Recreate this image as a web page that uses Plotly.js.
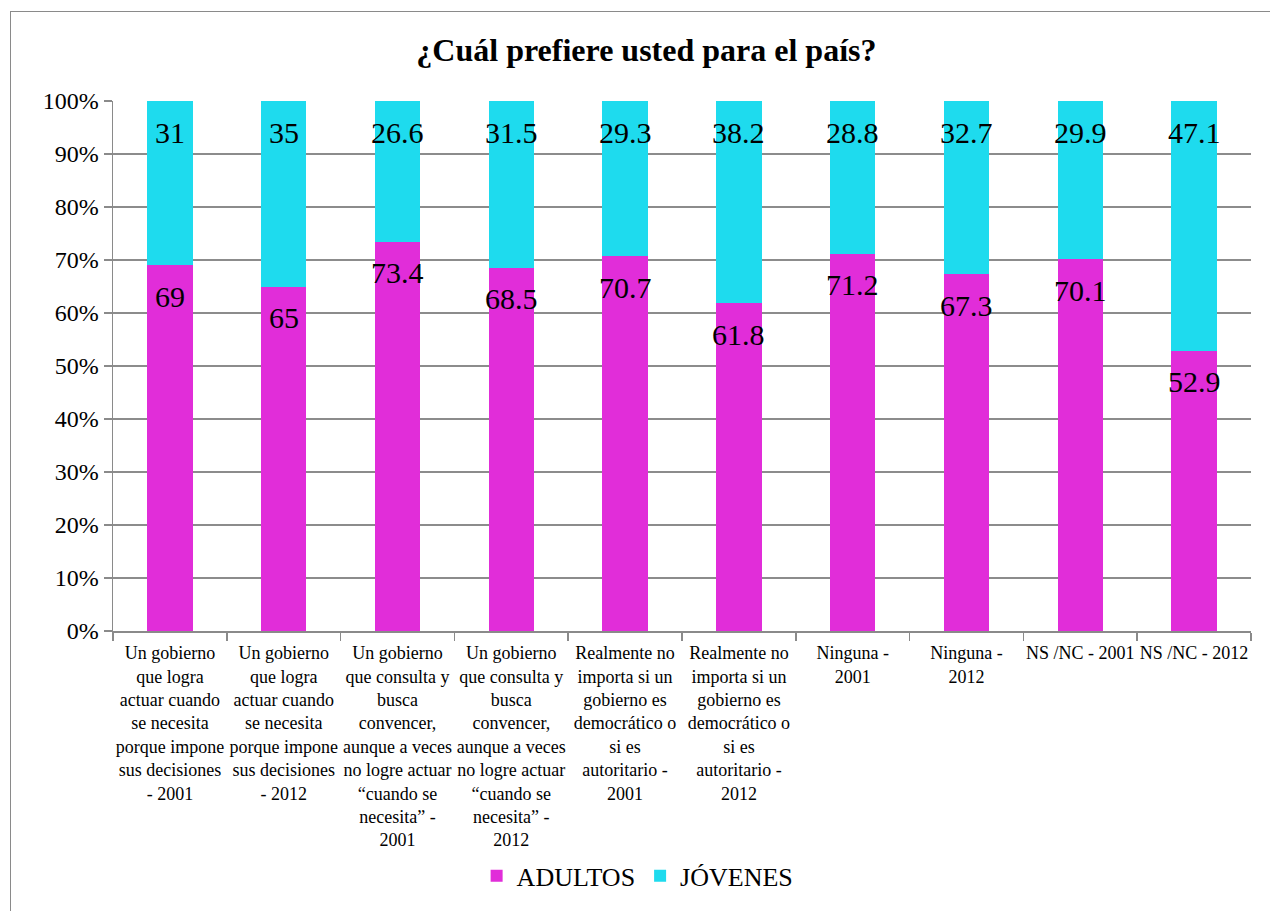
<!DOCTYPE html>
<html>
<head>
<meta charset="utf-8">
<script src="https://cdn.plot.ly/plotly-3.0.1.min.js"></script>
<style>
  html, body { margin: 0; padding: 0; background: #fff; }
  #frame { position: absolute; left: 10px; top: 11px; width: 1300px; height: 950px;
           border-left: 1.5px solid #8a8a8a; border-top: 1.5px solid #8a8a8a; }
  #chart { position: absolute; left: 0; top: 0; width: 1270px; height: 911px; }
</style>
</head>
<body>
<div id="frame"></div>
<div id="chart"></div>
<script>
// categorías (eje x)
const categorias = [
  'Un gobierno<br>que logra<br>actuar cuando<br>se necesita<br>porque impone<br>sus decisiones<br>- 2001',
  'Un gobierno<br>que logra<br>actuar cuando<br>se necesita<br>porque impone<br>sus decisiones<br>- 2012',
  'Un gobierno<br>que consulta y<br>busca<br>convencer,<br>aunque a veces<br>no logre actuar<br>“cuando se<br>necesita” -<br>2001',
  'Un gobierno<br>que consulta y<br>busca<br>convencer,<br>aunque a veces<br>no logre actuar<br>“cuando se<br>necesita” -<br>2012',
  'Realmente no<br>importa si un<br>gobierno es<br>democrático o<br>si es<br>autoritario -<br>2001',
  'Realmente no<br>importa si un<br>gobierno es<br>democrático o<br>si es<br>autoritario -<br>2012',
  'Ninguna -<br>2001',
  'Ninguna -<br>2012',
  'NS /NC - 2001',
  'NS /NC - 2012'
];

const adultos = [69, 65, 73.4, 68.5, 70.7, 61.8, 71.2, 67.3, 70.1, 52.9];
const jovenes = [31, 35, 26.6, 31.5, 29.3, 38.2, 28.8, 32.7, 29.9, 47.1];

const colorAdultos = '#E12DD9';
const colorJovenes = '#1EDBEE';
const serif = 'Liberation Serif';

const traces = [
  { type: 'bar', name: 'ADULTOS', x: categorias, y: adultos,
    marker: { color: colorAdultos }, hoverinfo: 'skip' },
  { type: 'bar', name: 'JÓVENES', x: categorias, y: jovenes,
    marker: { color: colorJovenes }, hoverinfo: 'skip' }
];

// etiquetas de datos, cerca del borde superior de cada segmento
const annotations = [];
categorias.forEach((c, i) => {
  annotations.push({ x: c, y: adultos[i], text: String(adultos[i]), showarrow: false,
    yshift: -31, font: { family: serif, size: 30, color: '#000' } });
  annotations.push({ x: c, y: adultos[i] + jovenes[i], text: String(jovenes[i]), showarrow: false,
    yshift: -31, font: { family: serif, size: 30, color: '#000' } });
});

const layout = {
  width: 1270,
  height: 911,
  paper_bgcolor: 'rgba(0,0,0,0)',
  plot_bgcolor: 'rgba(0,0,0,0)',
  margin: { l: 113, r: 19, t: 101, b: 277 },
  barmode: 'stack',
  bargap: 0.6,
  font: { family: serif, color: '#000' },
  title: {
    text: '<b>¿Cuál prefiere usted para el país?</b>',
    font: { family: serif, size: 32, color: '#000' },
    x: 0.509, xanchor: 'center', y: 0.945, yanchor: 'middle'
  },
  xaxis: {
    type: 'category',
    tickson: 'boundaries',
    ticks: 'outside', ticklen: 8, tickcolor: '#8a8a8a', tickwidth: 1.5,
    showline: true, linecolor: '#8a8a8a', linewidth: 1.5,
    tickangle: 0,
    ticklabelstandoff: 5,
    tickfont: { family: serif, size: 18, color: '#000' }
  },
  yaxis: {
    range: [0, 100],
    dtick: 10,
    ticksuffix: '%',
    ticks: 'outside', ticklen: 8, tickcolor: '#8a8a8a', tickwidth: 1.5,
    showline: true, linecolor: '#8a8a8a', linewidth: 1.5,
    showgrid: true, gridcolor: '#8c8c8c', gridwidth: 1.5,
    zeroline: false,
    tickfont: { family: serif, size: 24, color: '#000' }
  },
  legend: {
    orientation: 'h',
    traceorder: 'normal',
    x: 0.461, xanchor: 'center',
    y: -0.462, yanchor: 'middle',
    font: { family: serif, size: 26, color: '#000' },
    itemwidth: 30
  },
  annotations: annotations,
  showlegend: true
};

Plotly.newPlot('chart', traces, layout, { displayModeBar: false, staticPlot: true });
</script>
</body>
</html>
